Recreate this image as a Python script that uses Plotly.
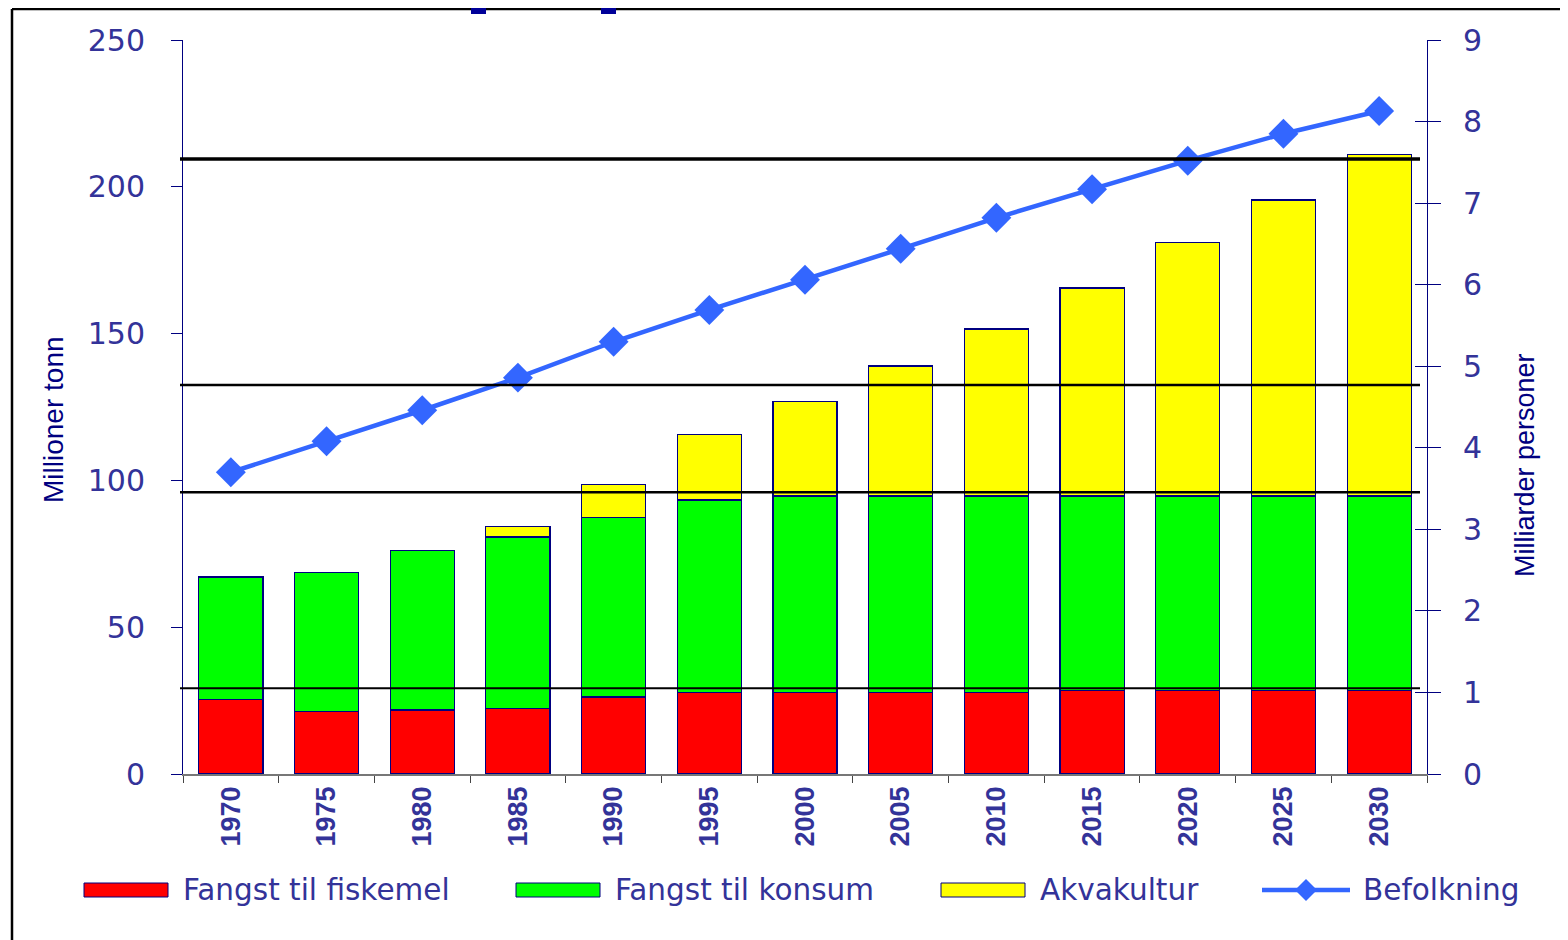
import plotly.graph_objects as go

# ---------------- data ----------------
years = ["1970", "1975", "1980", "1985", "1990", "1995", "2000",
         "2005", "2010", "2015", "2020", "2025", "2030"]
fiskemel = [25.4, 21.2, 21.8, 22.3, 26.2, 27.7, 27.7, 27.7, 27.7, 28.5, 28.5, 28.5, 28.5]
konsum = [41.7, 47.5, 54.3, 58.4, 61.1, 65.6, 67.0, 67.0, 67.0, 66.2, 66.2, 66.2, 66.2]
akvakultur = [0, 0, 0, 3.6, 11.4, 22.3, 32.3, 44.3, 56.9, 70.8, 86.2, 100.8, 116.4]
befolkning = [3.70, 4.08, 4.46, 4.86, 5.30, 5.69, 6.06, 6.44, 6.82, 7.17, 7.52, 7.85, 8.13]

series_names = ["Fangst til fiskemel", "Fangst til konsum", "Akvakultur", "Befolkning"]
left_ticks = [0, 50, 100, 150, 200, 250]
right_ticks = list(range(0, 10))
ref_lines = [209.5, 132.5, 96.0, 29.2]   # decorative black lines (left axis units)
ref_widths = [3.5, 2.5, 2.5, 2.0]

# ---------------- style ----------------
OFF = 8                      # page body margin
W, H = 1560, 932
L, T = 183 - OFF, 40 - OFF
PW, PH = 1244, 734
R = W - L - PW
B = H - T - PH
TXT = "#333399"
NAVY = "#000080"
BLUE = "#3366FF"
RED, GREEN, YELLOW = "#FF0000", "#00FF00", "#FFFF00"


def px(x):   # page pixel -> paper
    return (x - 183) / PW


def py(y):
    return (774 - y) / PH


fig = go.Figure()
for vals, name, col in [(fiskemel, series_names[0], RED),
                        (konsum, series_names[1], GREEN),
                        (akvakultur, series_names[2], YELLOW)]:
    fig.add_trace(go.Bar(x=years, y=vals, name=name, marker_color=col,
                         marker_line=dict(color=NAVY, width=1.2),
                         showlegend=False, yaxis="y"))

fig.add_trace(go.Scatter(x=years, y=befolkning, name=series_names[3], yaxis="y2",
                         mode="lines+markers",
                         line=dict(color=BLUE, width=4.5),
                         marker=dict(symbol="diamond", size=23, color=BLUE),
                         showlegend=False))

shapes = []
for v, w in zip(ref_lines, ref_widths):
    shapes.append(dict(type="line", xref="paper", yref="y", x0=px(180), x1=px(1420),
                       y0=v, y1=v, line=dict(color="black", width=w), layer="above"))

# frame lines and small squares at top
shapes.append(dict(type="line", xref="paper", yref="paper", x0=px(12), x1=px(1570),
                   y0=py(9), y1=py(9), line=dict(color="black", width=2.5), layer="above"))
shapes.append(dict(type="line", xref="paper", yref="paper", x0=px(12), x1=px(12),
                   y0=py(9), y1=py(945), line=dict(color="black", width=2.5), layer="above"))
for x0 in (471, 601):
    shapes.append(dict(type="rect", xref="paper", yref="paper", x0=px(x0), x1=px(x0 + 15),
                       y0=py(7), y1=py(14), fillcolor="#000099", line=dict(width=0),
                       layer="above"))

# custom legend
legend_y = 890
annotations = []
boxes = [(84, 168, 181, RED, series_names[0]),
         (516, 600, 613, GREEN, series_names[1]),
         (941, 1025, 1038, YELLOW, series_names[2])]
for x0, x1, tx, col, name in boxes:
    shapes.append(dict(type="rect", xref="paper", yref="paper", x0=px(x0), x1=px(x1),
                       y0=py(legend_y + 7), y1=py(legend_y - 7), fillcolor=col,
                       line=dict(color=NAVY, width=1)))
    annotations.append(dict(xref="paper", yref="paper", x=px(tx), y=py(legend_y),
                            xanchor="left", yanchor="middle", showarrow=False, text=name,
                            font=dict(family="DejaVu Sans", size=29.5, color=TXT)))
shapes.append(dict(type="line", xref="paper", yref="paper", x0=px(1262), x1=px(1350),
                   y0=py(legend_y), y1=py(legend_y), line=dict(color=BLUE, width=4.5)))
cx, cy, r = 1306, legend_y, 11
shapes.append(dict(type="path", xref="paper", yref="paper",
                   path=f"M {px(cx - r)},{py(cy)} L {px(cx)},{py(cy - r)} L {px(cx + r)},{py(cy)} L {px(cx)},{py(cy + r)} Z",
                   fillcolor=BLUE, line=dict(width=0)))
annotations.append(dict(xref="paper", yref="paper", x=px(1361), y=py(legend_y),
                        xanchor="left", yanchor="middle", showarrow=False, text=series_names[3],
                        font=dict(family="DejaVu Sans", size=29.5, color=TXT)))

# axis titles
annotations.append(dict(xref="paper", yref="paper", x=px(53), y=py(420), textangle=-90,
                        xanchor="center", yanchor="middle", showarrow=False, text="Millioner tonn",
                        font=dict(family="Liberation Sans Narrow, Liberation Sans", size=28, color=NAVY)))
annotations.append(dict(xref="paper", yref="paper", x=px(1525), y=py(465), textangle=-90,
                        xanchor="center", yanchor="middle", showarrow=False, text="Milliarder personer",
                        font=dict(family="Liberation Sans Narrow, Liberation Sans", size=27, color=NAVY)))

fig.update_layout(
    width=W, height=H,
    margin=dict(l=L, r=R, t=T, b=B, autoexpand=False),
    paper_bgcolor="white", plot_bgcolor="white",
    barmode="stack", bargap=0.33,
    shapes=shapes, annotations=annotations,
    xaxis=dict(type="category", tickson="boundaries", ticks="outside", ticklen=7,
               tickcolor="#444", showline=True, linecolor="#777", linewidth=1.5,
               showgrid=False, tickangle=-90,
               tickfont=dict(family="Liberation Sans", size=27, color=TXT, weight="bold"),
               range=[-0.5, 12.5]),
    yaxis=dict(range=[0, 250], tickvals=left_ticks, ticks="outside", ticklen=11,
               tickcolor=NAVY, showline=True, linecolor=NAVY, linewidth=1,
               showgrid=False, zeroline=False, ticklabelstandoff=20,
               tickfont=dict(family="DejaVu Sans", size=30, color=TXT)),
    yaxis2=dict(range=[0, 9], tickvals=right_ticks, overlaying="y", side="right",
                ticks="outside", ticklen=13, tickcolor=NAVY, showline=True,
                linecolor=NAVY, linewidth=1, showgrid=False, zeroline=False,
                ticklabelstandoff=16,
                tickfont=dict(family="DejaVu Sans", size=30, color=TXT)),
    yaxis3=dict(range=[0, 9], tickvals=right_ticks, overlaying="y", side="right",
                ticks="inside", ticklen=12, tickcolor=NAVY, showline=False,
                showgrid=False, zeroline=False, showticklabels=False),
)
# invisible trace to activate yaxis3 (inner tick marks of the right axis)
fig.add_trace(go.Scatter(x=[years[0]], y=[0], yaxis="y3", mode="markers",
                         marker=dict(opacity=0), showlegend=False, hoverinfo="skip"))

fig.write_html("out.html")
